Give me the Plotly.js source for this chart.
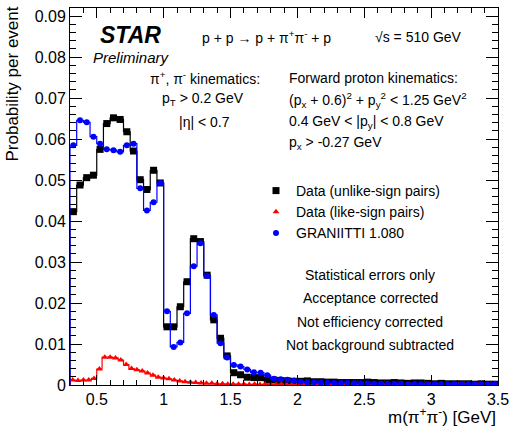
<!DOCTYPE html>
<html>
<head>
<meta charset="utf-8">
<script src="https://cdn.plot.ly/plotly-3.0.1.min.js"></script>
<style>html,body{margin:0;padding:0;background:#fff;}#chart{width:513px;height:428px;}</style>
</head>
<body>
<div id="chart"></div>
<script>
// ---- data ----
const binWidthPair = 0.05;   // unlike-sign data and GRANIITTI
const binWidthLike = 0.04;   // like-sign data
const massStart = 0.3;

const unlikeSign = [
  0.0423, 0.0488, 0.0506, 0.0512, 0.0575, 0.0638, 0.0652, 0.0648, 0.0618, 0.0571,
  0.0501, 0.0477, 0.0524, 0.0493, 0.0142, 0.0142, 0.0191, 0.0252, 0.0357, 0.0350,
  0.0268, 0.0159, 0.0114, 0.0071, 0.0030, 0.0025, 0.0019, 0.0018, 0.0018, 0.0012,
  0.0012, 0.0011, 0.0010, 0.0009, 0.0009, 0.0010, 0.0008, 0.0008, 0.0007, 0.0007,
  0.0006, 0.0006, 0.0006, 0.0006, 0.0007, 0.0006, 0.0005, 0.0005, 0.0006, 0.0005,
  0.0004, 0.0005, 0.0005, 0.0004, 0.0003, 0.0004, 0.0003, 0.0003, 0.0003, 0.0003,
  0.0002, 0.0003, 0.0002, 0.0002
];

const graniitti = [
  0.0585, 0.0646, 0.0641, 0.0606, 0.0589, 0.0575, 0.0573, 0.0569, 0.0585, 0.0589,
  0.0480, 0.0426, 0.0446, 0.0493, 0.0180, 0.0093, 0.0104, 0.0175, 0.0290, 0.0346,
  0.0266, 0.0171, 0.0102, 0.0067, 0.0049, 0.0045, 0.0038, 0.0031, 0.0030, 0.0024,
  0.0015, 0.0014, 0.0013, 0.0011, 0.0008, 0.0007, 0.0007, 0.0006, 0.0006, 0.0005,
  0.0005, 0.0005, 0.0004, 0.0004, 0.0004, 0.0003, 0.0003, 0.0003, 0.0003, 0.0003,
  0.0002, 0.0002, 0.0002, 0.0002, 0.0002, 0.0002, 0.0002, 0.0002, 0.0002, 0.0002,
  0.0002, 0.0002, 0.0002, 0.0002
];

const likeSign = [
  0.0012, 0.0011, 0.0012, 0.0012, 0.0016, 0.0039, 0.0068, 0.0068, 0.0066, 0.0061,
  0.0050, 0.0040, 0.0037, 0.0034, 0.0029, 0.0024, 0.0019, 0.0017, 0.0015, 0.0012,
  0.0010, 0.0008, 0.0007, 0.0006, 0.0005, 0.0004, 0.0004, 0.0003, 0.0003, 0.0002,
  0.0002, 0.0002, 0.0002, 0.0001, 0.0002, 0.0001, 0.0002, 0.0001, 0.0001, 0.0002,
  0.0001, 0.0001, 0.0001, 0.0002, 0.0001, 0.0001, 0.0001, 0.0001, 0.0001, 0.0002,
  0.0001, 0.0001, 0.0001, 0.0001, 0.0001, 0.0001, 0.0001, 0.0001, 0.0001, 0.0001,
  0.0001, 0.0001, 0.0001, 0.0001, 0.0001, 0.0001, 0.0001, 0.0001, 0.0001, 0.0001,
  0.0001, 0.0001, 0.0001, 0.0001, 0.0001, 0.0001, 0.0001, 0.0001, 0.0001, 0.0001
];

const seriesNames = ["Data (unlike-sign pairs)", "Data (like-sign pairs)", "GRANIITTI 1.080"];
const xTickVals = [0.5, 1, 1.5, 2, 2.5, 3, 3.5];
const xTickText = ["0.5", "1", "1.5", "2", "2.5", "3", "3.5"];
const yTickVals = [0, 0.01, 0.02, 0.03, 0.04, 0.05, 0.06, 0.07, 0.08, 0.09];
const yTickText = ["0", "0.01", "0.02", "0.03", "0.04", "0.05", "0.06", "0.07", "0.08", "0.09"];

// ---- helpers ----
function centers(values, w) { return values.map((_, i) => massStart + w * (i + 0.5)); }
function stepX(values, w) {
  const xs = [massStart];
  values.forEach((_, i) => xs.push(massStart + w * i));
  xs.push(massStart + w * values.length);
  return xs;
}
function stepY(values) { return [0].concat(values).concat([values[values.length - 1]]); }

const FONT = "Liberation Sans, Arial, Helvetica, sans-serif";

function series(values, w, color, symbol, size, name, lw) {
  return [
    { x: stepX(values, w), y: stepY(values), type: "scatter", mode: "lines",
      line: { shape: "hv", color: color, width: lw }, showlegend: false, hoverinfo: "skip" },
    { x: centers(values, w), y: values, type: "scatter", mode: "markers", name: name,
      legendgroup: name,
      marker: { symbol: symbol, size: size, color: color } }
  ];
}

const traces = [].concat(
  series(unlikeSign, binWidthPair, "#000000", "square", 7, seriesNames[0], 1.2),
  series(likeSign, binWidthLike, "#ff0000", "triangle-up", 6, seriesNames[1], 1.2),
  series(graniitti, binWidthPair, "#0000ff", "circle", 6, seriesNames[2], 1.2)
);

// pixel -> paper helpers for text placement
const L = 70, R = 15, T = 8, B = 43, W = 513, H = 428;
const PW = W - L - R, PH = H - T - B;
const px = v => (v - L) / PW;
const py = v => (H - B - v) / PH;

function ann(text, x, y, anchor, size, extra) {
  return Object.assign({ text: text, xref: "paper", yref: "paper", x: px(x), y: py(y),
    xanchor: anchor, yanchor: "middle", showarrow: false,
    font: { family: FONT, size: size, color: "#000" } }, extra || {});
}

const annotations = [
  ann("<b><i>STAR</i></b>", 130, 35, "center", 23),
  ann("<i>Preliminary</i>", 131, 57, "center", 15),
  ann("p + p → p + π<sup>+</sup>π<sup>-</sup> + p", 266, 37, "center", 14),
  ann("√s = 510 GeV", 373, 37, "left", 14),
  ann("π<sup>+</sup>, π<sup>-</sup> kinematics:", 205, 78, "center", 14),
  ann("p<sub>T</sub> &gt; 0.2 GeV", 203, 99, "center", 14),
  ann("|η| &lt; 0.7", 204, 122, "center", 14),
  ann("Forward proton kinematics:", 287, 78, "left", 14),
  ann("(p<sub>x</sub> + 0.6)<sup>2</sup> + p<sub>y</sub><sup>2</sup> &lt; 1.25 GeV<sup>2</sup>", 287, 100, "left", 14),
  ann("0.4 GeV &lt; |p<sub>y</sub>| &lt; 0.8 GeV", 287, 122, "left", 14),
  ann("p<sub>x</sub> &gt; -0.27 GeV", 287, 143, "left", 14),
  ann("Statistical errors only", 370, 275, "center", 14),
  ann("Acceptance corrected", 370, 298, "center", 14),
  ann("Not efficiency corrected", 370, 322, "center", 14),
  ann("Not background subtracted", 370, 345, "center", 14),
  ann("m(π<sup>+</sup>π<sup>-</sup>) [GeV]", 498, 416, "right", 17),
  { text: "Probability per event", xref: "paper", yref: "paper", x: px(12), y: py(5),
    xanchor: "center", yanchor: "top", textangle: -90, showarrow: false,
    font: { family: FONT, size: 17, color: "#000" } }
];

const layout = {
  width: W, height: H,
  margin: { l: L, r: R, t: T, b: B, pad: 0 },
  paper_bgcolor: "#fff", plot_bgcolor: "#fff",
  font: { family: FONT, size: 16, color: "#000" },
  showlegend: true,
  legend: { x: px(256), y: py(175), xanchor: "left", yanchor: "top",
    bgcolor: "rgba(0,0,0,0)", borderwidth: 0,
    font: { family: FONT, size: 14, color: "#000" }, tracegroupgap: 0, itemwidth: 30 },
  xaxis: {
    range: [massStart, 3.5], showgrid: false, zeroline: false,
    showline: true, linecolor: "#000", linewidth: 1, mirror: "ticks",
    ticks: "inside", ticklen: 10, tickcolor: "#000", tickwidth: 1,
    tickvals: xTickVals, ticktext: xTickText, tickfont: { family: FONT, size: 16 },
    minor: { dtick: 0.1, ticks: "inside", ticklen: 5, tickcolor: "#000", showgrid: false }
  },
  yaxis: {
    range: [0, 0.092], showgrid: false, zeroline: false,
    showline: true, linecolor: "#000", linewidth: 1, mirror: "ticks",
    ticks: "inside", ticklen: 12, tickcolor: "#000", tickwidth: 1,
    tickvals: yTickVals, ticktext: yTickText, tickfont: { family: FONT, size: 16 },
    minor: { dtick: 0.002, ticks: "inside", ticklen: 6, tickcolor: "#000", showgrid: false }
  },
  annotations: annotations
};

Plotly.newPlot("chart", traces, layout, { displayModeBar: false, staticPlot: true });
</script>
</body>
</html>
